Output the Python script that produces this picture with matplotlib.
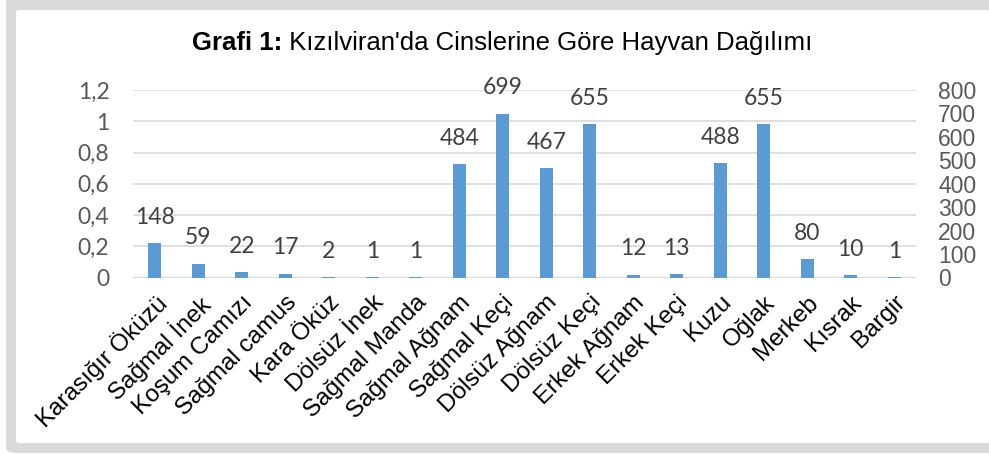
import matplotlib
matplotlib.use("Agg")
import matplotlib.pyplot as plt
import numpy as np
from matplotlib.patches import FancyBboxPatch

categories = ["Karasığır Öküzü", "Sağmal İnek", "Koşum Camızı", "Sağmal camus",
              "Kara Öküz", "Dölsüz İnek", "Sağmal Manda", "Sağmal Ağnam",
              "Sağmal Keçi", "Dölsüz Ağnam", "Dölsüz Keçi", "Erkek Ağnam",
              "Erkek Keçi", "Kuzu", "Oğlak", "Merkeb", "Kısrak", "Bargir"]
counts = [148, 59, 22, 17, 2, 1, 1, 484, 699, 467, 655, 12, 13, 488, 655, 80, 10, 1]
left_ticks = [0, 0.2, 0.4, 0.6, 0.8, 1.0, 1.2]
left_labels = ["0", "0,2", "0,4", "0,6", "0,8", "1", "1,2"]
right_ticks = [0, 100, 200, 300, 400, 500, 600, 700, 800]

W, H = 989, 455
fig = plt.figure(figsize=(W / 100, H / 100), dpi=100)

# frame
def px(x, y):
    return x / W, 1 - y / H

fig.patches.append(FancyBboxPatch(px(6, 453), (1100 - 6) / W, 470 / H,
                                  boxstyle="round,pad=0,rounding_size=0.012",
                                  transform=fig.transFigure, fc="#d9d9d9", ec="none",
                                  zorder=-2))
fig.patches.append(FancyBboxPatch(px(16, 443), (1100 - 16) / W, (443 - 10) / H,
                                  boxstyle="round,pad=0,rounding_size=0.004",
                                  transform=fig.transFigure, fc="white", ec="none",
                                  zorder=-1))

ax = fig.add_axes([133 / W, 1 - 277.5 / H, (916 - 133) / W, (277.5 - 90) / H])
ax.patch.set_alpha(0)
ax.set_ylim(0, 1.2)
ax.set_yticks(left_ticks)
ax.set_yticklabels(left_labels, family="Lato", fontsize=16.5, color="#595959")
ax.yaxis.grid(True, color="#d9d9d9", lw=1.2)
ax.set_axisbelow(True)
ax.tick_params(axis="y", length=0, pad=17)
for s in ax.spines.values():
    s.set_visible(False)

x = np.arange(len(categories))
ax.set_xlim(-0.5, len(categories) - 0.5)
ax.set_xticks(x)
ax.set_xticklabels(categories, rotation=45, ha="right", va="top",
                   rotation_mode="anchor", family="Liberation Sans",
                   fontsize=17.5, color="black")
ax.tick_params(axis="x", length=0, pad=10)

ax2 = ax.twinx()
ax2.set_ylim(0, 800)
ax2.set_yticks(right_ticks)
ax2.set_yticklabels([str(t) for t in right_ticks], family="Liberation Sans",
                    fontsize=16.5, color="#595959")
ax2.tick_params(axis="y", length=0, pad=16)
for s in ax2.spines.values():
    s.set_visible(False)
ax2.axhline(0, color="#d9d9d9", lw=1.6, zorder=1)

ax2.bar(x, counts, width=0.3, color="#5b9bd5", zorder=2)
for xi, v in zip(x, counts):
    ax2.annotate(str(v), (xi, v), xytext=(0, 18.5), textcoords="offset points",
                 ha="center", va="center", family="Lato", fontsize=16.5,
                 color="#404040")

# title: bold part + regular part, centred on the panel
bold = "Grafi 1:"
reg = " Kızılviran'da Cinslerine Göre Hayvan Dağılımı"
r = fig.canvas.get_renderer()
tb = fig.text(0, 0, bold, fontsize=18.5, fontweight="bold", family="Liberation Sans")
tr = fig.text(0, 0, reg, fontsize=18.5, family="Liberation Sans")
wb = tb.get_window_extent(r).width / W
wr = tr.get_window_extent(r).width / W
cx = (16 + W) / 2 / W
start = cx - (wb + wr) / 2
ty = 1 - 43 / H
tb.set_position((start, ty))
tb.set_va("center")
tr.set_position((start + wb, ty))
tr.set_va("center")

fig.savefig("out.png", dpi=100)
